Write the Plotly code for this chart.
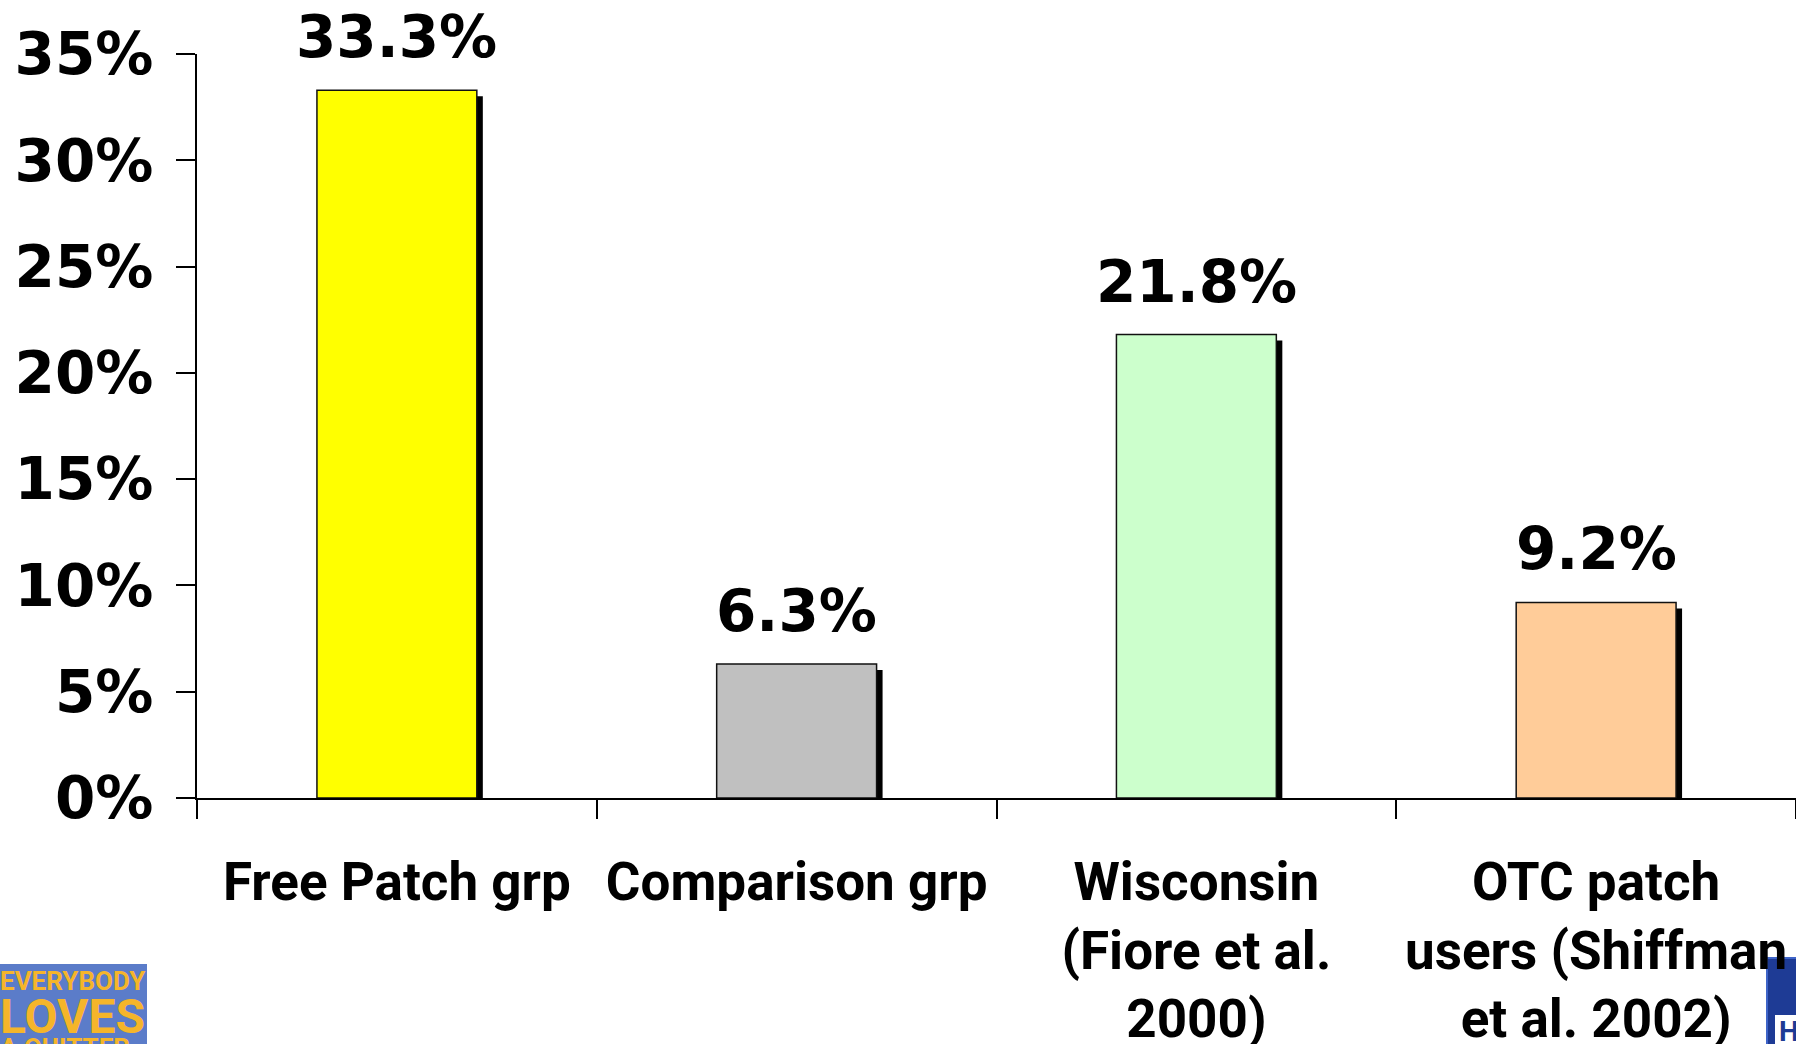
import plotly.graph_objects as go

# ---- data ----
categories = ["Free Patch grp", "Comparison grp",
              "Wisconsin<br>(Fiore et al.<br>2000)",
              "OTC patch<br>users (Shiffman<br>et al. 2002)"]
values = [33.3, 6.3, 21.8, 9.2]
value_labels = ["33.3%", "6.3%", "21.8%", "9.2%"]
bar_colors = ["#FFFF00", "#C0C0C0", "#CCFFCC", "#FFCC99"]
y_ticks = [0, 5, 10, 15, 20, 25, 30, 35]
y_tick_labels = ["0%", "5%", "10%", "15%", "20%", "25%", "30%", "35%"]

# ---- layout geometry ----
W, H = 1796, 1044
ML, MR, MT, MB = 197, 0, 54, 246
PW, PH = W - ML - MR, H - MT - MB
YMAX = 35
px_per_y = PH / YMAX
cat_px = PW / len(categories)
SHADOW = 6
dx = SHADOW / cat_px
dy = SHADOW / px_per_y
BW = 0.4

num_font = dict(family="DejaVu Sans", size=58, color="black", weight="bold")
cat_font = dict(family="Roboto", size=53, color="black", weight="bold")


def px_x(p):
    return (p - ML) / PW


def px_y(p):
    return (H - MB - p) / PH


fig = go.Figure()
# drop shadows
fig.add_trace(go.Bar(
    x=categories, y=values, base=[-dy] * len(values),
    offset=-BW / 2 + dx, width=BW,
    marker=dict(color="black", line=dict(width=0)),
    cliponaxis=False, hoverinfo="skip", showlegend=False))
# bars
fig.add_trace(go.Bar(
    x=categories, y=values, offset=-BW / 2, width=BW,
    marker=dict(color=bar_colors, line=dict(color="#111111", width=1.5)),
    cliponaxis=False, showlegend=False))

for c, v, t in zip(categories, values, value_labels):
    fig.add_annotation(x=c, y=v, text=t, showarrow=False, yanchor="bottom",
                       yshift=17, font=num_font)

shapes = [
    # x-axis line extension left of the y axis
    dict(type="line", xref="paper", yref="y", x0=px_x(178), x1=0, y0=0, y1=0,
         line=dict(color="black", width=2)),
    # bottom-left logo
    dict(type="rect", xref="paper", yref="paper", x0=px_x(0), x1=px_x(147),
         y0=px_y(1050), y1=px_y(964), fillcolor="#5B7CC9", line=dict(width=0),
         layer="below"),
    # bottom-right logo
    dict(type="rect", xref="paper", yref="paper", x0=px_x(1767), x1=px_x(1800),
         y0=px_y(1050), y1=px_y(958), fillcolor="#1E3B95",
         line=dict(color="#3E64C8", width=2), layer="below"),
    dict(type="rect", xref="paper", yref="paper", x0=px_x(1775), x1=px_x(1800),
         y0=px_y(1050), y1=px_y(1015), fillcolor="white", line=dict(width=0),
         layer="below"),
]

logo_font = dict(family="Roboto", color="#F5B52A", weight="bold")
fig.add_annotation(xref="paper", yref="paper", x=px_x(-2), y=px_y(964),
                   xanchor="left", yanchor="top", showarrow=False,
                   text="EVERYBODY", font=dict(size=26, **logo_font))
fig.add_annotation(xref="paper", yref="paper", x=px_x(-2), y=px_y(986),
                   xanchor="left", yanchor="top", showarrow=False,
                   text="LOVES", font=dict(size=48, **logo_font))
fig.add_annotation(xref="paper", yref="paper", x=px_x(-2), y=px_y(1031),
                   xanchor="left", yanchor="top", showarrow=False,
                   text="A QUITTER", font=dict(size=26, **logo_font))
fig.add_annotation(xref="paper", yref="paper", x=px_x(1777), y=px_y(1013),
                   xanchor="left", yanchor="top", showarrow=False,
                   text="H", font=dict(size=28, color="#1E3B95", family="Roboto",
                                      weight="bold"))

fig.update_layout(
    width=W, height=H, margin=dict(l=ML, r=MR, t=MT, b=MB, autoexpand=False),
    paper_bgcolor="white", plot_bgcolor="white", barmode="overlay",
    shapes=shapes, showlegend=False,
    xaxis=dict(type="category", range=[-0.5, len(categories) - 0.5],
               showline=True, linecolor="black", linewidth=2,
               ticks="outside", tickson="boundaries", ticklen=19, tickwidth=2,
               tickcolor="black", showgrid=False, zeroline=False,
               tickfont=cat_font, ticklabelstandoff=36),
    yaxis=dict(range=[0, YMAX], tickvals=y_ticks, ticktext=y_tick_labels,
               showline=True, linecolor="black", linewidth=2,
               ticks="outside", ticklen=19, tickwidth=2, tickcolor="black",
               showgrid=False, zeroline=False, tickfont=num_font,
               ticklabelstandoff=11),
)

fig.write_html("out.html", config={"displayModeBar": False},
               post_script="document.body.style.margin='0';"
                           "document.body.style.overflow='hidden';")
